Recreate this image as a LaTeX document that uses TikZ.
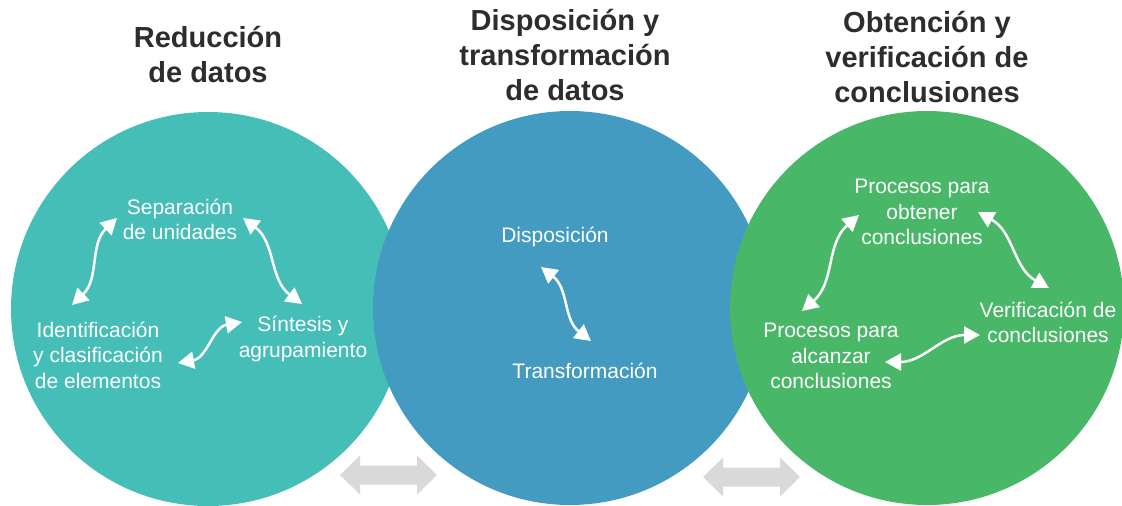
\documentclass[tikz,border=0pt]{standalone}
\usepackage{fontspec}
\setmainfont{Liberation Sans}
\usetikzlibrary{arrows.meta}
\definecolor{tealc}{RGB}{69,190,184}
\definecolor{bluec}{RGB}{67,155,194}
\definecolor{greenc}{RGB}{72,183,104}
\definecolor{grayc}{RGB}{217,217,217}
\definecolor{titlec}{RGB}{45,45,45}
\tikzset{
  circ/.style={circle, minimum size=394pt, inner sep=0pt, draw=none},
  titletext/.style={font=\fontsize{29}{35}\selectfont\bfseries, text=titlec, align=center, inner sep=0pt},
  lbl/.style={font=\fontsize{21}{25.5}\selectfont, text=white, align=center, inner sep=0pt},
  warr/.style={draw=white, line width=2.5pt, {Triangle[length=16pt,width=17pt]}-{Triangle[length=16pt,width=17pt]}},
  garr/.style={fill=grayc, draw=none}
}
\begin{document}
\begin{tikzpicture}[x=1pt,y=1pt]
\useasboundingbox (0,0) rectangle (1122,-506);
\begin{scope}
\clip (0,0) rectangle (1122,-506);
\node[circ, fill=tealc] (c1) at (208,-309) {};
\node[circ, fill=bluec] (c2) at (570,-308) {};
\node[circ, fill=greenc] (c3) at (927,-308) {};
\end{scope}

% gray double arrows
\fill[garr] (340,-475) -- (360,-455.5) -- (360,-465.5) -- (417,-465.5) -- (417,-455.5) -- (437,-475)
  -- (417,-494.5) -- (417,-484.5) -- (360,-484.5) -- (360,-494.5) -- cycle;
\fill[garr] (703,-477) -- (723,-457.5) -- (723,-467.5) -- (780,-467.5) -- (780,-457.5) -- (800,-477)
  -- (780,-496.5) -- (780,-486.5) -- (723,-486.5) -- (723,-496.5) -- cycle;

% titles
\node[titletext] (t1) at (208,-54.5) {Reducción\\de datos};
\node[titletext] (t2) at (565,-55) {Disposición y\\transformación\\de datos};
\node[titletext] (t3) at (927,-57.5) {Obtención y\\verificación de\\conclusiones};

% labels
\node[lbl] (sep) at (180,-219.5) {Separación\\de unidades};
\node[lbl] (ide) at (98,-355) {Identificación\\y clasificación\\de elementos};
\node[lbl] (sin) at (303,-339) {Síntesis y\\agrupamiento};
\node[lbl] (dis) at (555,-237) {Disposición};
\node[lbl] (tra) at (585,-371) {Transformación};
\node[lbl] (obt) at (922,-212) {Procesos para\\obtener\\conclusiones};
\node[lbl] (ver) at (1048,-322.5) {Verificación de\\conclusiones};
\node[lbl] (alc) at (831,-356) {Procesos para\\alcanzar\\conclusiones};

% arrow end points
\coordinate (a1s) at (72,-305);  \coordinate (a1e) at (117,-218);
\coordinate (a2s) at (243,-218); \coordinate (a2e) at (302,-304);
\coordinate (a3s) at (178,-363); \coordinate (a3e) at (242,-322);
\coordinate (a4s) at (541,-267); \coordinate (a4e) at (591,-341);
\coordinate (a5s) at (802,-311); \coordinate (a5e) at (859,-215);
\coordinate (a6s) at (978,-212); \coordinate (a6e) at (1049,-288);
\coordinate (a7s) at (885,-362); \coordinate (a7e) at (980,-335);

\draw[warr] (a1s) to[out=44,in=224] (a1e);
\draw[warr] (a2s) to[out=-37,in=143] (a2e);
\draw[warr] (a3s) to[out=10,in=190] (a3e);
\draw[warr] (a4s) to[out=-38,in=142] (a4e);
\draw[warr] (a5s) to[out=41,in=221] (a5e);
\draw[warr] (a6s) to[out=-29,in=151] (a6e);
\draw[warr] (a7s) to[out=0,in=180] (a7e);
\end{tikzpicture}
\end{document}
